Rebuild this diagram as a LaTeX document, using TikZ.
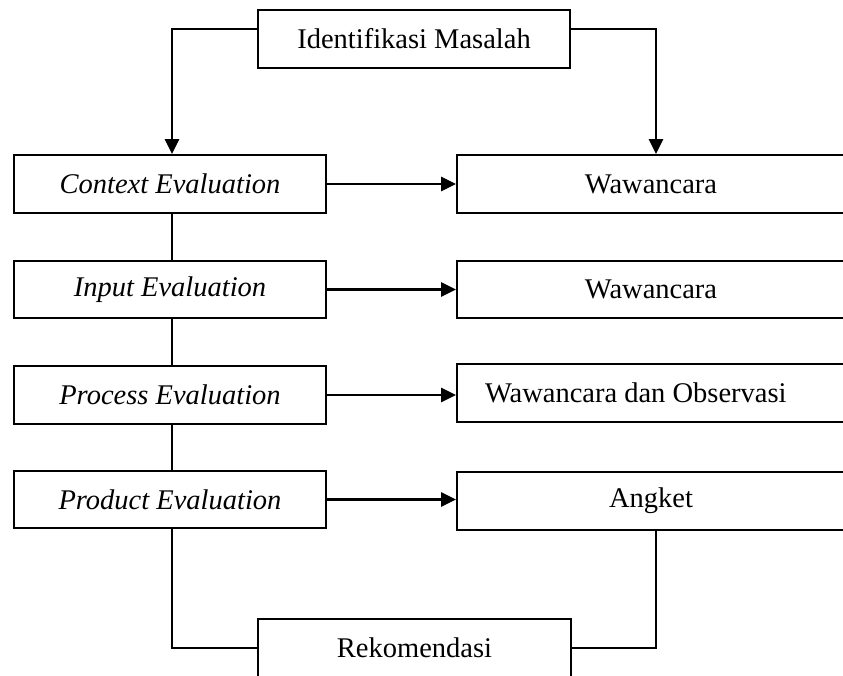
\documentclass[tikz,border=0pt]{standalone}
\usepackage{fontspec}
\setmainfont{Liberation Serif}
\usetikzlibrary{arrows.meta}
\begin{document}
\begin{tikzpicture}[x=1pt,y=-1pt,
  box/.style={draw=black,line width=2pt,inner sep=0pt,minimum height=58pt,
    font=\fontsize{28.5}{34}\selectfont},
  lbox/.style={box,minimum width=312pt},
  rbox/.style={box,minimum width=388pt},
  conn/.style={draw=black,line width=2pt},
  arr/.style={draw=black,line width=2.8pt,-{Triangle[length=15pt,width=14pt]}}]
\useasboundingbox (0,0) rectangle (843,675);
\clip (0,0) rectangle (843,675);
\node[box,minimum width=312pt] (top) at (414,39) {Identifikasi Masalah};
\node[lbox] (ctx) at (170,184) {\itshape Context Evaluation};
\node[lbox,minimum height=57pt] (inp) at (170,289.5) {\itshape Input Evaluation};
\node[lbox] (pro) at (170,395) {\itshape Process Evaluation};
\node[lbox,minimum height=57pt] (prd) at (170,499.5) {\itshape Product Evaluation};
\node[rbox] (w1) at (651,184) {Wawancara};
\node[rbox,minimum height=57pt] (w2) at (651,289.5) {Wawancara};
\node[rbox,text width=332pt,inner xsep=28pt,align=flush left] (w3) at (651,393) {Wawancara dan Observasi};
\node[rbox] (w4) at (651,501) {Angket};
\node[box,minimum width=313pt] (rek) at (414.5,648) {Rekomendasi};
% top connectors
\draw[arr] ([yshift=10pt]top.west) -| ([xshift=2pt]ctx.north);
\draw[arr] ([yshift=10pt]top.east) -| ([xshift=5pt]w1.north);
% horizontal arrows
\draw[arr] (ctx.east) -- (w1.west);
\draw[arr] (inp.east) -- (w2.west);
\draw[arr] (pro.east) -- (pro.east -| w3.west);
\draw[arr] (prd.east) -- (prd.east -| w4.west);
% vertical links
\draw[conn] ([xshift=2pt]ctx.south) -- ([xshift=2pt]inp.north);
\draw[conn] ([xshift=2pt]inp.south) -- ([xshift=2pt]pro.north);
\draw[conn] ([xshift=2pt]pro.south) -- ([xshift=2pt]prd.north);
\draw[conn] ([xshift=2pt]prd.south) |- (rek.west);
\draw[conn] ([xshift=5pt]w4.south) |- (rek.east);
\end{tikzpicture}
\end{document}
